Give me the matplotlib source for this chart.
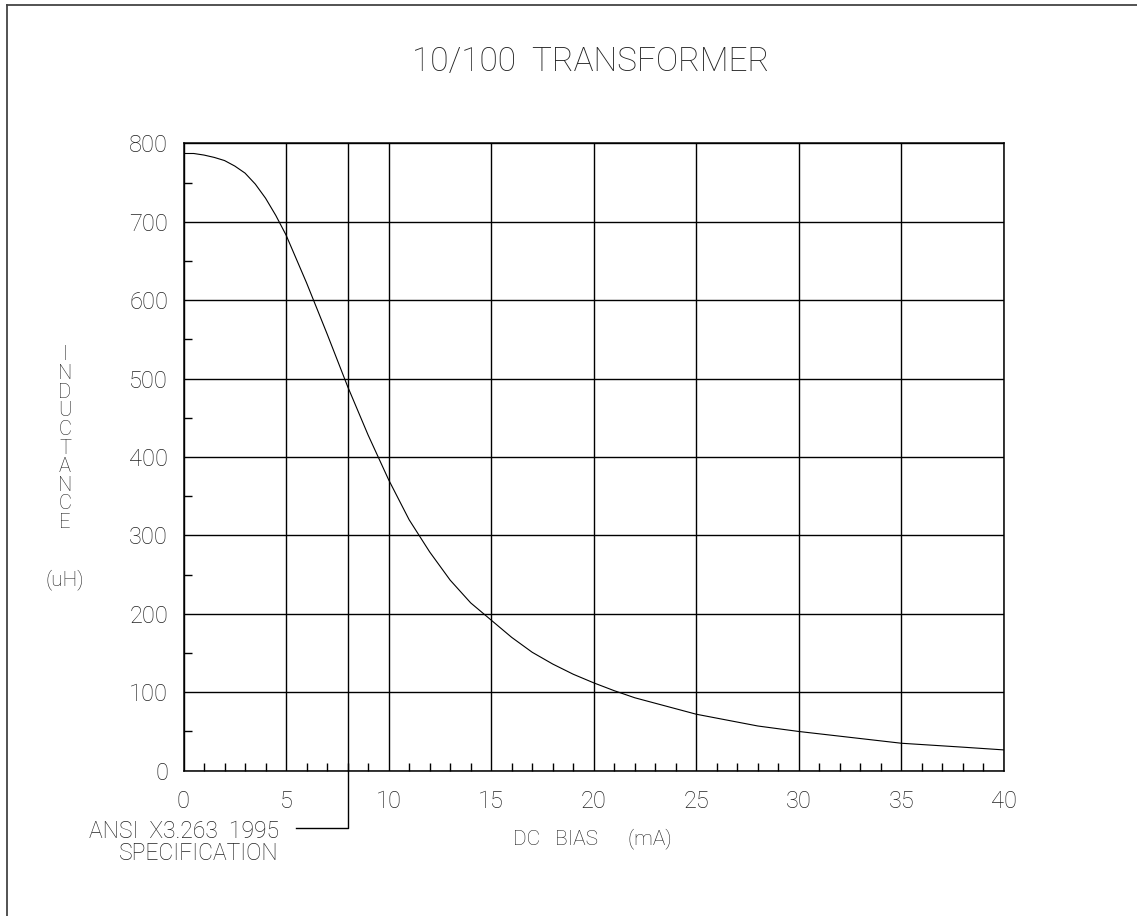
import matplotlib
matplotlib.use("Agg")
import matplotlib.pyplot as plt
from matplotlib.lines import Line2D
from matplotlib.ticker import MultipleLocator

# inductance vs dc bias
bias_ma = [0, 0.5, 1, 1.5, 2, 2.5, 3, 3.5, 4, 4.5, 5, 6, 7, 8, 9, 10, 11, 12, 13,
           14, 15, 16, 17, 18, 19, 20, 21, 22, 23, 24, 25, 27, 28, 30, 32, 35,
           38, 40]
inductance_uh = [787, 787, 785, 782, 778, 771, 762, 748, 730, 708, 683, 622, 557,
                 490, 428, 371, 320, 279, 243, 214, 192, 170, 151, 136, 123, 112,
                 102, 93, 86, 79, 72, 62, 57, 50, 44, 35, 30, 26.5]

x_ticks = [0, 5, 10, 15, 20, 25, 30, 35, 40]
y_ticks = [0, 100, 200, 300, 400, 500, 600, 700, 800]
spec_bias = 8  # ANSI X3.263 1995 spec point

W, H = 1137, 916
FONT = ["Roboto", "DejaVu Sans"]
plt.rcParams["font.family"] = FONT
plt.rcParams["font.weight"] = "light"
TXT = "#222222"

fig = plt.figure(figsize=(W / 100, H / 100), dpi=100)
ax = fig.add_axes([183.5 / W, 1 - 770.7 / H, (1004 - 183.5) / W, (770.7 - 143.3) / H])

ax.plot(bias_ma, inductance_uh, color="black", lw=0.8)

ax.set_xlim(0, 40)
ax.set_ylim(0, 800)
ax.set_xticks(x_ticks)
ax.set_yticks(y_ticks)
ax.xaxis.set_minor_locator(MultipleLocator(1))
ax.yaxis.set_minor_locator(MultipleLocator(50))
ax.tick_params(which="major", length=0, labelsize=17, colors=TXT)
ax.tick_params(axis="x", which="major", pad=14)
ax.tick_params(axis="y", which="major", pad=11)
ax.tick_params(which="minor", direction="in", length=6, width=1, color="black")
ax.grid(True, which="major", color="black", lw=1.0)
for s in ax.spines.values():
    s.set_color("black")
    s.set_linewidth(1.1)

# spec line at 8 mA with leader down to the note
ax.axvline(spec_bias, color="black", lw=1.0)
px_to_data = 800 / (770.7 - 143.3)
y_leader = -(828 - 770.7) * px_to_data
x_note = (296 - 183.5) / ((1004 - 183.5) / 40)
ax.plot([spec_bias, spec_bias, x_note], [0, y_leader, y_leader], color="black",
        lw=1.0, clip_on=False)


def fx(px):
    return px / W


def fy(py):
    return 1 - py / H


fig.text(fx(591), fy(62), "10/100  TRANSFORMER", ha="center", va="center",
         fontsize=24, color=TXT)
fig.text(fx(279), fy(831), "ANSI  X3.263  1995", ha="right", va="center",
         fontsize=16.5, color=TXT)
fig.text(fx(279), fy(854), "SPECIFICATION", ha="right", va="center",
         fontsize=16.5, color=TXT)
fig.text(fx(513), fy(839), "DC   BIAS      (mA)", ha="left", va="center",
         fontsize=15, color=TXT)

for i, ch in enumerate("INDUCTANCE"):
    fig.text(fx(65), fy(355 + i * 18.6), ch, ha="center", va="center",
             fontsize=14.5, color=TXT)
fig.text(fx(65), fy(580), "(uH)", ha="center", va="center", fontsize=15,
         color=TXT)

# outer drawing border (left and top edges visible)
fig.add_artist(Line2D([fx(7), fx(7)], [0, fy(4.5)], color="#444444", lw=1.3))
fig.add_artist(Line2D([fx(7), 1], [fy(4.5), fy(4.5)], color="#444444", lw=1.3))

fig.savefig("out.png", dpi=100)
